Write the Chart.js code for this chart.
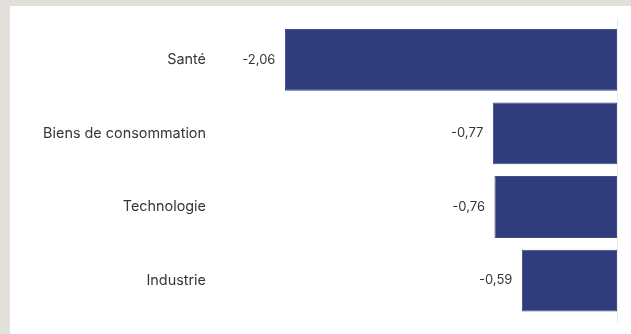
<!DOCTYPE html>
<html>
<head>
<meta charset="utf-8">
<script src="https://cdn.jsdelivr.net/npm/chart.js@4/dist/chart.umd.min.js"></script>
<style>
  html, body { margin: 0; padding: 0; background: #e3dfdb; }
  #panel { position: absolute; left: 10px; top: 6px; width: 621px; height: 328px; background: #ffffff; }
  #wrap { position: absolute; left: 0; top: 0; width: 631px; height: 334px; }
</style>
</head>
<body>
<div id="panel"></div>
<div id="wrap"><canvas id="c" width="631" height="334"></canvas></div>
<script>
const categories = ["Santé", "Biens de consommation", "Technologie", "Industrie"];
const values = [-2.06, -0.77, -0.76, -0.59];

const FONT = "Inter, 'Liberation Sans', Arial, sans-serif";
const TEXT = "#363636";
const BAR = "#2f3d7d";

const fmt = v => v.toFixed(2).replace(".", ",");

// light vertical line at zero
const zeroLine = {
  id: "zeroLine",
  beforeDatasetsDraw(chart) {
    const { ctx, chartArea, scales } = chart;
    const x = Math.round(scales.x.getPixelForValue(0)) + 0.5;
    ctx.save();
    ctx.strokeStyle = "#ececec";
    ctx.lineWidth = 1;
    ctx.beginPath();
    ctx.moveTo(x, chartArea.top - 5);
    ctx.lineTo(x, chartArea.bottom + 5);
    ctx.stroke();
    ctx.restore();
  }
};

// value labels placed just left of each bar
const valueLabels = {
  id: "valueLabels",
  afterDatasetsDraw(chart) {
    const { ctx } = chart;
    const meta = chart.getDatasetMeta(0);
    ctx.save();
    ctx.font = "13px " + FONT;
    ctx.fillStyle = TEXT;
    ctx.textAlign = "right";
    ctx.textBaseline = "middle";
    meta.data.forEach((bar, i) => {
      ctx.fillText(fmt(values[i]), bar.x - 9.5, bar.y);
    });
    ctx.restore();
  }
};

new Chart(document.getElementById("c"), {
  type: "bar",
  data: {
    labels: categories,
    datasets: [{
      data: values,
      backgroundColor: BAR,
      borderColor: "#3e4d8c",
      borderWidth: 1,
      borderSkipped: false,
      categoryPercentage: 1,
      barPercentage: 0.84
    }]
  },
  options: {
    indexAxis: "y",
    responsive: false,
    animation: false,
    layout: { padding: { left: 0, right: 14, top: 23, bottom: 14 } },
    plugins: { legend: { display: false }, tooltip: { enabled: false } },
    scales: {
      x: { display: false, min: -2.5, max: 0 },
      y: {
        grid: { display: false, drawTicks: false },
        border: { display: false },
        ticks: {
          padding: 8,
          color: TEXT,
          font: { family: FONT, size: 14.4 }
        },
        afterFit(scale) { scale.width = 214; }
      }
    }
  },
  plugins: [zeroLine, valueLabels]
});
</script>
</body>
</html>
